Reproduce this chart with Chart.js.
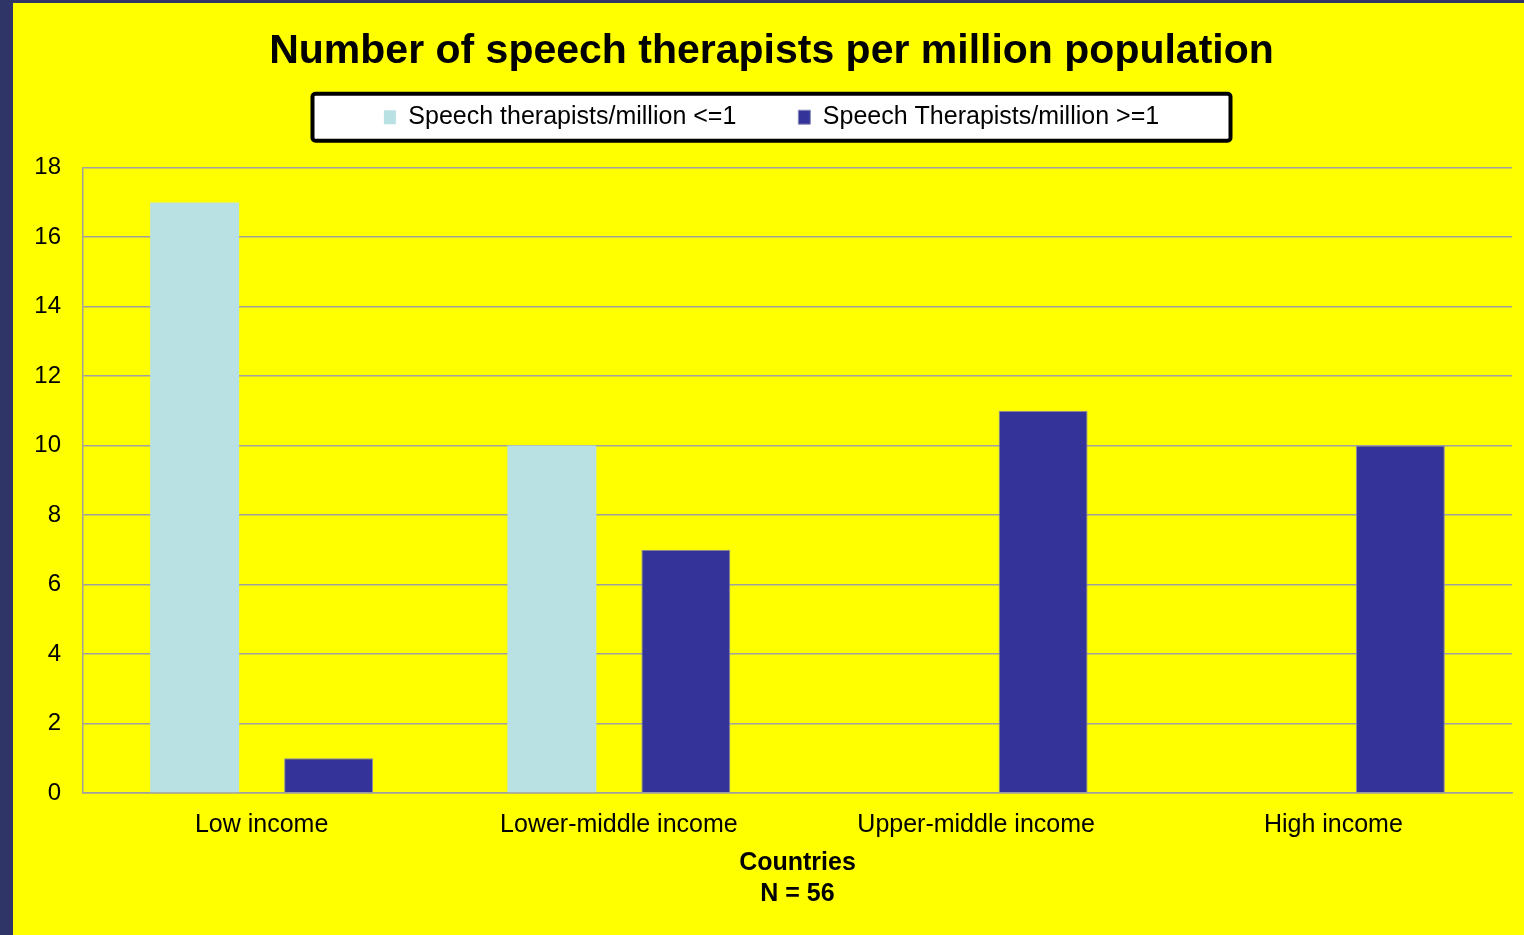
<!DOCTYPE html>
<html>
<head>
<meta charset="utf-8">
<title>Speech therapists per million population</title>
<script src="https://cdn.jsdelivr.net/npm/chart.js@4.4.1/dist/chart.umd.min.js"></script>
<style>
  html, body { margin: 0; padding: 0; background: #2f3566; }
  #wrap { width: 1524px; height: 935px; position: relative; }
</style>
</head>
<body>
<div id="wrap"><canvas id="chart"></canvas></div>
<script>
// income groups and country counts
const categories = ['Low income', 'Lower-middle income', 'Upper-middle income', 'High income'];
const seriesNames = ['Speech therapists/million <=1', 'Speech Therapists/million >=1'];
const atMostOne = [17, 10, 0, 0];
const atLeastOne = [1, 7, 11, 10];
const yMax = 18;
const yStep = 2;
const axisTitle = ['Countries', 'N = 56'];

const FONT = '"Liberation Sans", Arial, sans-serif';
const GRID = '#a0a0a0';

// navy slide edge, yellow slide body and the framed legend panel
const slideBackground = {
  id: 'slideBackground',
  beforeInit(chart) {
    // leave some room between the legend and the plot
    const fit = chart.legend.fit;
    chart.legend.fit = function () {
      fit.call(this);
      this.height += 28;
    };
  },
  beforeDraw(chart) {
    const { ctx, width, height } = chart;
    ctx.save();
    ctx.fillStyle = '#2f3566';
    ctx.fillRect(0, 0, width, height);
    ctx.fillStyle = '#ffff00';
    ctx.fillRect(13, 3, width - 13, height - 3);

    const lg = chart.legend;
    if (lg && lg.legendHitBoxes && lg.legendHitBoxes.length) {
      const hb = lg.legendHitBoxes[0];
      const cx = (lg.left + lg.right) / 2;
      const cy = hb.top + hb.height / 2;
      const w = 918, h = 47;
      ctx.beginPath();
      ctx.roundRect(cx - w / 2, cy - h / 2, w, h, 3);
      ctx.fillStyle = '#ffffff';
      ctx.fill();
      ctx.lineWidth = 4;
      ctx.strokeStyle = '#000000';
      ctx.stroke();
    }
    ctx.restore();
  }
};

Chart.defaults.font.family = FONT;
Chart.defaults.color = '#000000';

new Chart(document.getElementById('chart'), {
  type: 'bar',
  data: {
    labels: categories,
    datasets: [
      {
        label: seriesNames[0],
        data: atMostOne,
        backgroundColor: '#b9e0e3',
        borderWidth: 0
      },
      {
        label: seriesNames[1],
        data: atLeastOne,
        backgroundColor: '#333399',
        borderColor: '#8a8ab8',
        borderWidth: 1
      }
    ]
  },
  options: {
    responsive: true,
    maintainAspectRatio: false,
    animation: false,
    categoryPercentage: 0.75,
    barPercentage: 0.664,
    layout: { padding: { left: 31, right: 12, top: 0, bottom: 0 } },
    plugins: {
      title: {
        display: true,
        text: 'Number of speech therapists per million population',
        color: '#000000',
        font: { size: 41, weight: 'bold', family: FONT },
        padding: { top: 27, bottom: -33.5 }
      },
      legend: {
        position: 'top',
        labels: {
          color: '#000000',
          font: { size: 25, family: FONT },
          boxWidth: 12,
          boxHeight: 14,
          padding: 62
        }
      },
      tooltip: { enabled: false }
    },
    scales: {
      x: {
        grid: { display: false, drawTicks: false },
        border: { display: true, color: GRID, width: 1.5 },
        ticks: { color: '#000000', font: { size: 25, family: FONT }, padding: 17 },
        title: {
          display: true,
          text: axisTitle,
          color: '#000000',
          font: { size: 25, weight: 'bold', family: FONT, lineHeight: 1.25 },
          padding: { top: 8, bottom: 25 }
        },
        afterFit(scale) {
          scale.height = 142;
        }
      },
      y: {
        min: 0,
        max: yMax,
        grid: { color: GRID, lineWidth: 1.5, drawTicks: false },
        border: { display: true, color: GRID, width: 1.5 },
        ticks: { stepSize: yStep, color: '#000000', font: { size: 24, family: FONT }, padding: 22 },
        afterFit(scale) {
          scale.width = 52;
        }
      }
    }
  },
  plugins: [slideBackground]
});
</script>
</body>
</html>
